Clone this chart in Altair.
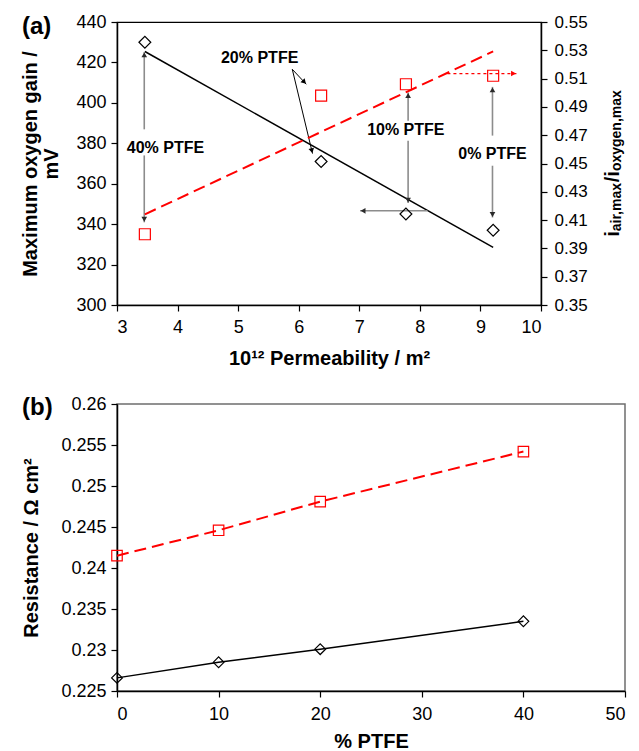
import math
import altair as alt
import pandas as pd

# ---------------- data ----------------
# panel (a)
perm = [3.46, 6.37, 7.77, 9.21]
gain_mv = [430, 371, 345, 337]
ratio = [0.400, 0.498, 0.506, 0.512]

# panel (b)
ptfe = [0, 10, 20, 40]
res_black = [0.2266, 0.2285, 0.2301, 0.2335]
res_red = [0.2415, 0.2446, 0.2481, 0.2542]

# annotation arrows of panel (a), in data units (permeability, mV)
ann_x1 = [3.45, 3.45, 5.894, 5.894, 7.806, 7.806, 8.125, 9.199, 9.199, 8.455]
ann_y1 = [386.9, 374.0, 416.6, 416.6, 391.2, 381.2, 346.6, 383.8, 368.9, 414.5]
ann_x2 = [3.45, 3.45, 6.125, 6.228, 7.806, 7.806, 7.013, 9.199, 9.199, 9.596]
ann_y2 = [425.2, 340.9, 409.2, 374.9, 405.1, 350.4, 346.6, 407.9, 343.3, 414.5]
ann_kind = ["gray", "gray", "black", "black", "gray", "gray", "gray", "gray", "gray", "red"]

label_text = ["40% PTFE", "20% PTFE", "10% PTFE", "0% PTFE"]
label_x = [3.80, 5.355, 7.768, 9.199]
label_y = [377.9, 422.4, 386.4, 374.6]

panel_labels = ["(a)", "(b)"]

# ---------------- layout constants ----------------
W_A, H_A = 424, 283
W_B, H_B = 508, 287
FONT = "Liberation Sans"
PX_X = W_A / 7.0
PX_Y = H_A / 140.0

LINE_COL = {"gray": "#8c8c8c", "black": "#000000", "red": "#ff0000"}
LINE_W = {"gray": 1.6, "black": 1.0, "red": 1.2}
HEAD_COL = {"gray": "#2a2a2a", "black": "#000000", "red": "#ff0000"}

df_a = pd.DataFrame({"perm": perm, "gain": gain_mv, "ratio": ratio})
df_b = pd.DataFrame({"ptfe": ptfe, "black": res_black, "red": res_red})

ann = pd.DataFrame({"x1": ann_x1, "y1": ann_y1, "x2": ann_x2, "y2": ann_y2, "kind": ann_kind})
ann["lc"] = ann["kind"].map(LINE_COL)
ann["lw"] = ann["kind"].map(LINE_W)
hx, hy, ha = [], [], []
for x1, y1, x2, y2 in zip(ann_x1, ann_y1, ann_x2, ann_y2):
    dxp = (x2 - x1) * PX_X
    dyp = -(y2 - y1) * PX_Y
    L = math.hypot(dxp, dyp)
    ux, uy = dxp / L, dyp / L
    back = 3.0
    hx.append(x2 - back * ux / PX_X)
    hy.append(y2 + back * uy / PX_Y)
    ha.append(math.degrees(math.atan2(ux, -uy)) % 360)
ann["hx"] = hx
ann["hy"] = hy
ann["ha"] = ha
ann["hc"] = ann["kind"].map(HEAD_COL)

labels = pd.DataFrame({"t": label_text, "x": label_x, "y": label_y})

xs_a = alt.Scale(domain=[3, 10], nice=False, zero=False)
ys_a = alt.Scale(domain=[300, 440], nice=False, zero=False)
ys_r = alt.Scale(domain=[0.35, 0.55], nice=False, zero=False)

X_AXIS_A = alt.Axis(values=list(range(3, 11)), format="d",
                    title="10¹² Permeability / m²", labelPadding=7, titlePadding=12)
Y_AXIS_A = alt.Axis(values=list(range(300, 441, 20)),
                    title=["Maximum oxygen gain /", "mV"], titlePadding=14,
                    titleLineHeight=21, labelPadding=5)
R_AXIS_A = alt.Axis(orient="right", values=[round(0.35 + 0.02 * i, 2) for i in range(11)],
                    format=".2f", title=None, labelPadding=7, labelFontSize=17)


def XA(f):
    return alt.X(f, scale=xs_a, axis=X_AXIS_A)


def YA(f):
    return alt.Y(f, scale=ys_a, axis=Y_AXIS_A)


def YR(f):
    return alt.Y(f, scale=ys_r, axis=R_AXIS_A)


# ---------------- panel (a) left group ----------------
pts_a = alt.Chart(df_a).mark_point(shape="diamond", filled=False, color="black",
                                   size=140, strokeWidth=1.2, opacity=1).encode(
    x=XA("perm:Q"), y=YA("gain:Q"))

trend_a = alt.Chart(df_a).transform_regression("perm", "gain").mark_line(
    color="black", strokeWidth=1.5).encode(x=XA("perm:Q"), y=YA("gain:Q"))

rules_solid = alt.Chart(ann).transform_filter("datum.kind != 'red'").mark_rule().encode(
    x=XA("x1:Q"), x2="x2:Q", y=YA("y1:Q"), y2="y2:Q",
    color=alt.Color("lc:N", scale=None),
    strokeWidth=alt.StrokeWidth("lw:Q", scale=None))

rules_dot = alt.Chart(ann).transform_filter("datum.kind == 'red'").mark_rule(
    strokeDash=[3, 3], strokeWidth=1.2, color="#ff0000").encode(
    x=XA("x1:Q"), x2="x2:Q", y=YA("y1:Q"), y2="y2:Q")

heads = alt.Chart(ann).mark_point(shape="triangle-up", filled=True, size=32,
                                  opacity=1).encode(
    x=XA("hx:Q"), y=YA("hy:Q"),
    angle=alt.Angle("ha:Q", scale=None),
    color=alt.Color("hc:N", scale=None))

ann_text = alt.Chart(labels).mark_text(font=FONT, fontSize=16, fontWeight="bold",
                                       color="black").encode(
    x=XA("x:Q"), y=YA("y:Q"), text="t:N")

tag_a = alt.Chart(pd.DataFrame({"t": [panel_labels[0]]})).mark_text(
    font=FONT, fontSize=24, fontWeight="bold", align="left", baseline="middle",
    color="black").encode(x=alt.value(-95), y=alt.value(5), text="t:N")

left_group = alt.layer(trend_a, rules_solid, rules_dot, heads, ann_text, pts_a, tag_a)

# ---------------- panel (a) right group ----------------
pts_r = alt.Chart(df_a).mark_point(shape="square", filled=False, color="#ff0000",
                                   size=121, strokeWidth=1.2, opacity=1).encode(
    x=XA("perm:Q"), y=YR("ratio:Q"))

trend_r = alt.Chart(df_a).transform_regression("perm", "ratio").mark_line(
    color="#ff0000", strokeWidth=2, strokeDash=[12, 6]).encode(
    x=XA("perm:Q"), y=YR("ratio:Q"))

# right axis title i_air,max / i_oxygen,max built from pieces (subscripts)
CW = {"i": .278, "a": .556, "r": .389, ",": .278, "m": .889, "x": .556, "/": .278,
      "o": .611, "y": .556, "g": .611, "e": .556, "n": .611}
pieces = [("i", 20, 0), ("air,max", 14, 2), ("/", 20, 0), ("i", 20, 0), ("oxygen,max", 14, 2)]
widths = [sum(CW[c] for c in t) * s for t, s, _ in pieces]
cur = H_A / 2 + sum(widths) / 2
title_layers = []
for (t, s, off), w in zip(pieces, widths):
    title_layers.append(
        alt.Chart(pd.DataFrame({"t": [t]})).mark_text(
            font=FONT, fontSize=s, fontWeight="bold", angle=270, align="left",
            baseline="alphabetic", color="black").encode(
            x=alt.value(W_A + 78 + off), y=alt.value(cur), text="t:N"))
    cur -= w

right_group = alt.layer(trend_r, pts_r, *title_layers)

panel_a = alt.layer(left_group, right_group).resolve_scale(y="independent").properties(
    width=W_A, height=H_A, view=alt.ViewBackground(stroke="black", strokeWidth=1.2))

# ---------------- panel (b) ----------------
xs_b = alt.Scale(domain=[0, 50], nice=False, zero=False)
ys_b = alt.Scale(domain=[0.225, 0.26], nice=False, zero=False)
X_AXIS_B = alt.Axis(values=list(range(0, 51, 10)), format="d", title="% PTFE",
                    labelPadding=8, titlePadding=8)
Y_AXIS_B = alt.Axis(values=[round(0.225 + 0.005 * i, 3) for i in range(8)], format=".3~f",
                    title="Resistance / Ω cm²", titlePadding=19, labelPadding=5)


def XB(f):
    return alt.X(f, scale=xs_b, axis=X_AXIS_B)


def YB(f):
    return alt.Y(f, scale=ys_b, axis=Y_AXIS_B)


base_b = alt.Chart(df_b)
line_bk = base_b.mark_line(color="black", strokeWidth=1.5).encode(
    x=XB("ptfe:Q"), y=YB("black:Q"))
pts_bk = base_b.mark_point(shape="diamond", filled=False, color="black", size=115,
                           strokeWidth=1.2, opacity=1).encode(
    x=XB("ptfe:Q"), y=YB("black:Q"))
line_rd = base_b.mark_line(color="#ff0000", strokeWidth=2, strokeDash=[12, 6]).encode(
    x=XB("ptfe:Q"), y=YB("red:Q"))
pts_rd = base_b.mark_point(shape="square", filled=False, color="#ff0000", size=110,
                           strokeWidth=1.2, opacity=1).encode(
    x=XB("ptfe:Q"), y=YB("red:Q"))
tag_b = alt.Chart(pd.DataFrame({"t": [panel_labels[1]]})).mark_text(
    font=FONT, fontSize=24, fontWeight="bold", align="left", baseline="middle",
    color="black").encode(x=alt.value(-95), y=alt.value(4), text="t:N")

panel_b = alt.layer(line_bk, line_rd, pts_bk, pts_rd, tag_b).properties(
    width=W_B, height=H_B, view=alt.ViewBackground(stroke="#6e6e6e", strokeWidth=1.5))

chart = alt.vconcat(panel_a, panel_b, spacing=25).properties(
    padding={"left": 12, "top": 4, "right": 0, "bottom": 0},
    background="white"
).configure_axis(
    labelFont=FONT, labelFontSize=18, labelColor="black",
    titleFont=FONT, titleFontSize=20, titleFontWeight="bold", titleColor="black",
    domainColor="black", domainWidth=1.5, tickColor="black", tickSize=6, tickWidth=1.2,
    grid=False
).configure_text(font=FONT)

chart.save("out.html", embed_options={"renderer": "svg", "actions": False})
